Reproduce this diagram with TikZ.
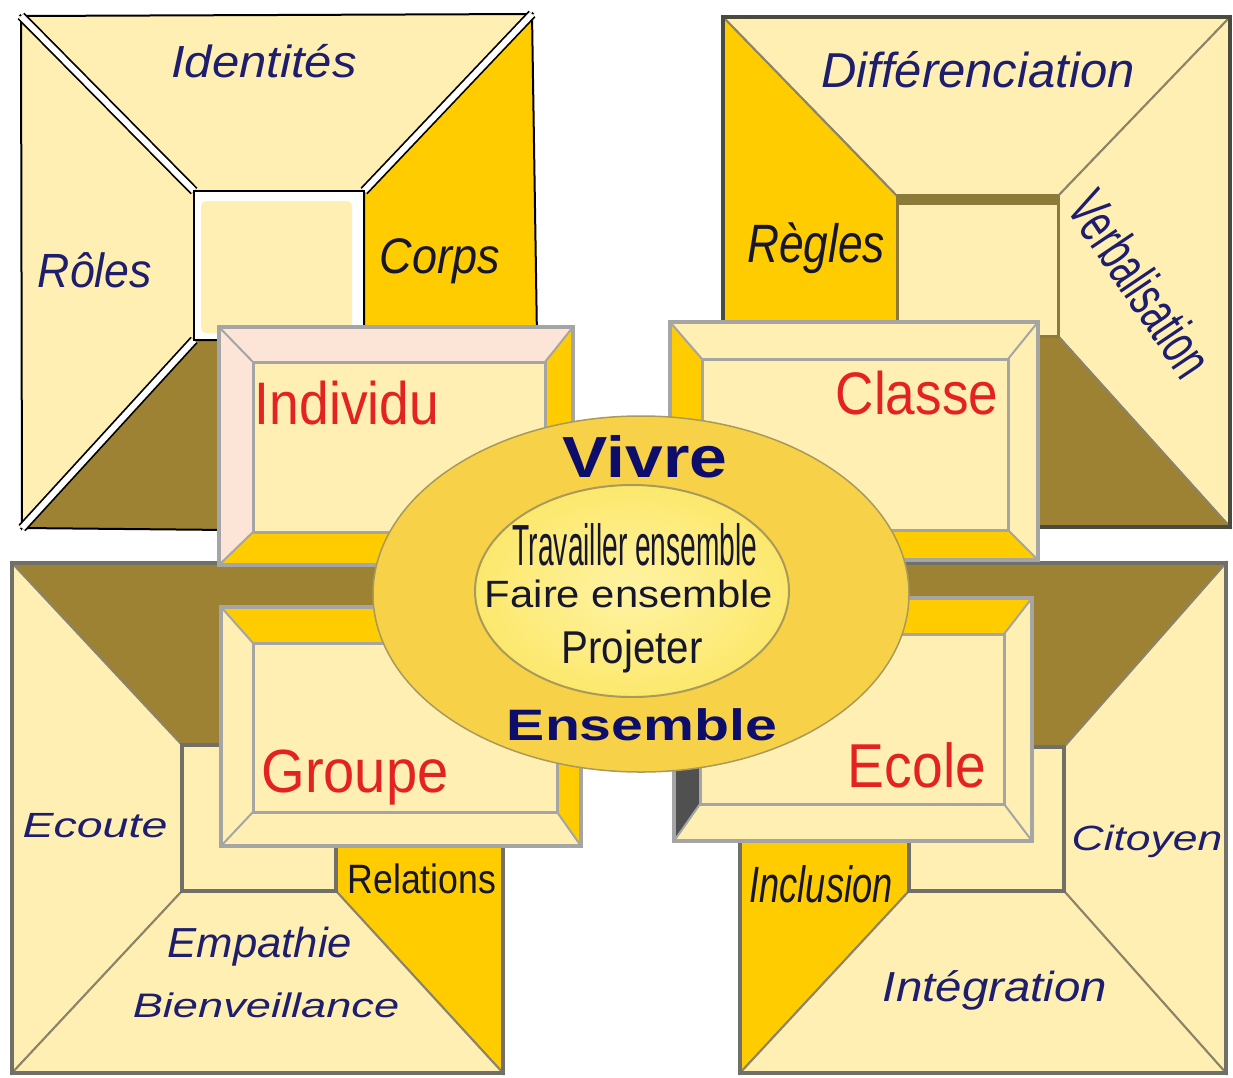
\documentclass[tikz,border=0pt]{standalone}
\usepackage{fontspec}
\setmainfont{Liberation Sans}
\usepackage{graphicx}
\usetikzlibrary{shapes.geometric}
\definecolor{cLight}{HTML}{FFEFB3}
\definecolor{cGold}{HTML}{FFCC00}
\definecolor{cBrown}{HTML}{9C8232}
\definecolor{cPink}{HTML}{FCE4D6}
\definecolor{cDark}{HTML}{505050}
\definecolor{cNavy}{HTML}{1E1E6E}
\definecolor{cVivre}{HTML}{0D0D6B}
\definecolor{cInk}{HTML}{16162C}
\definecolor{cRed}{HTML}{E32222}
\definecolor{cBoxLine}{HTML}{A5A5A5}
\definecolor{cFrame}{HTML}{707068}
\definecolor{cSeam}{HTML}{8C8468}
\definecolor{cOlive}{HTML}{8C7A3A}
\definecolor{cTRframe}{HTML}{4A4A3E}
\definecolor{cEllOut}{HTML}{F7D147}
\definecolor{cEllIn}{HTML}{FCE86C}
\definecolor{cEllInC}{HTML}{FFF3A4}
\definecolor{cEllLine}{HTML}{A89A5A}
\tikzset{
  lbl/.style={inner sep=0pt, anchor=base},
  seam/.style={draw=cSeam, line width=2},
  bevline/.style={draw=cBoxLine, line width=2},
  boxline/.style={draw=cBoxLine, line width=3},
}
\newcommand\Lbl[3]{\fontsize{#1}{#1}\selectfont\scalebox{#2}[1]{#3}}
% #1 outer TL, #2 outer BR, #3 inner TL, #4 inner BR, #5 top, #6 left, #7 right, #8 bottom
\newcommand\bevel[8]{%
  \fill[#5] (#1) -- (#1 -| #2) -- (#3 -| #4) -- (#3) -- cycle;
  \fill[#6] (#1) -- (#3) -- (#3 |- #4) -- (#1 |- #2) -- cycle;
  \fill[#7] (#1 -| #2) -- (#2) -- (#4) -- (#3 -| #4) -- cycle;
  \fill[#8] (#1 |- #2) -- (#2) -- (#4) -- (#3 |- #4) -- cycle;
  \draw[bevline] (#1) -- (#3) (#1 -| #2) -- (#3 -| #4) (#2) -- (#4) (#1 |- #2) -- (#3 |- #4);
  \filldraw[boxline, fill=cLight] (#3) rectangle (#4);
  \draw[draw=cBoxLine, line width=4] (#1) rectangle (#2);
}
\begin{document}
\begin{tikzpicture}[x=1pt,y=-1pt]
\fill[white] (0,0) rectangle (1233,1077);
\useasboundingbox (0,0) rectangle (1233,1077);

% ---------------- top-left frame
\coordinate (tlA) at (21,16);
\coordinate (tlB) at (532,14);
\coordinate (tlC) at (540,533);
\coordinate (tlD) at (22,528);
\coordinate (tla) at (194,191);
\coordinate (tlb) at (364,191);
\coordinate (tlc) at (364,340);
\coordinate (tld) at (194,340);
\filldraw[fill=cLight, draw=black, line width=2] (tlA) -- (tlB) -- (tlb) -- (tla) -- cycle;
\filldraw[fill=cLight, draw=black, line width=2] (tlA) -- (tla) -- (tld) -- (tlD) -- cycle;
\filldraw[fill=cGold, draw=black, line width=2] (tlB) -- (tlC) -- (tlc) -- (tlb) -- cycle;
\filldraw[fill=cBrown, draw=black, line width=2] (tlD) -- (tld) -- (tlc) -- (tlC) -- cycle;
\foreach \p/\q in {tlA/tla, tlB/tlb, tlD/tld, tlC/tlc}{
  \draw[black, line width=9.5] (\p) -- (\q);
  \draw[white, line width=6] (\p) -- (\q);
}
\filldraw[fill=white, draw=black, line width=2] (tla) rectangle (tlc);
\fill[cLight, rounded corners=5] (201,201) rectangle (352,333);

% ---------------- top-right frame
\coordinate (trA) at (723,17);
\coordinate (trB) at (1230,17);
\coordinate (trC) at (1230,527);
\coordinate (trD) at (723,527);
\coordinate (tra) at (897,196);
\coordinate (trb) at (1058,196);
\coordinate (trc) at (1058,336);
\coordinate (trd) at (897,336);
\filldraw[fill=cLight, seam] (trA) -- (trB) -- (trb) -- (tra) -- cycle;
\filldraw[fill=cGold, seam] (trA) -- (tra) -- (trd) -- (trD) -- cycle;
\filldraw[fill=cLight, seam] (trB) -- (trC) -- (trc) -- (trb) -- cycle;
\filldraw[fill=cBrown, seam] (trD) -- (trd) -- (trc) -- (trC) -- cycle;
\filldraw[fill=cLight, draw=cOlive, line width=3] (tra) rectangle (trc);
\fill[cOlive] (897,194) rectangle (1058,205);
\draw[cTRframe, line width=3.5] (trA) rectangle (trC);

% ---------------- bottom-left frame
\coordinate (blA) at (12,563);
\coordinate (blB) at (503,563);
\coordinate (blC) at (503,1073);
\coordinate (blD) at (12,1073);
\coordinate (bla) at (182,745);
\coordinate (blb) at (336,745);
\coordinate (blc) at (336,891);
\coordinate (bld) at (182,891);
\filldraw[fill=cBrown, seam] (blA) -- (blB) -- (blb) -- (bla) -- cycle;
\filldraw[fill=cLight, seam] (blA) -- (bla) -- (bld) -- (blD) -- cycle;
\filldraw[fill=cGold, seam] (blB) -- (blC) -- (blc) -- (blb) -- cycle;
\filldraw[fill=cLight, seam] (blD) -- (bld) -- (blc) -- (blC) -- cycle;
\filldraw[fill=cLight, draw=cFrame, line width=3.5] (bla) rectangle (blc);
\draw[cFrame, line width=3.5] (blA) rectangle (blC);

% ---------------- bottom-right frame
\coordinate (brA) at (740,563);
\coordinate (brB) at (1226,563);
\coordinate (brC) at (1226,1073);
\coordinate (brD) at (740,1073);
\coordinate (bra) at (909,747);
\coordinate (brb) at (1064,747);
\coordinate (brc) at (1064,891);
\coordinate (brd) at (909,891);
\filldraw[fill=cBrown, seam] (brA) -- (brB) -- (brb) -- (bra) -- cycle;
\filldraw[fill=cGold, seam] (brA) -- (bra) -- (brd) -- (brD) -- cycle;
\filldraw[fill=cLight, seam] (brB) -- (brC) -- (brc) -- (brb) -- cycle;
\filldraw[fill=cLight, seam] (brD) -- (brd) -- (brc) -- (brC) -- cycle;
\filldraw[fill=cLight, draw=cFrame, line width=3.5] (bra) rectangle (brc);
\draw[cFrame, line width=3.5] (brA) rectangle (brC);

% ---------------- bevelled boxes
\coordinate (iO1) at (219,327); \coordinate (iO2) at (573,565);
\coordinate (iI1) at (253,362); \coordinate (iI2) at (545,532);
\bevel{iO1}{iO2}{iI1}{iI2}{cPink}{cPink}{cGold}{cGold}

\coordinate (cO1) at (670,322); \coordinate (cO2) at (1038,560);
\coordinate (cI1) at (702,359); \coordinate (cI2) at (1008,530);
\bevel{cO1}{cO2}{cI1}{cI2}{cLight}{cGold}{cLight}{cGold}

\coordinate (gO1) at (221,607); \coordinate (gO2) at (581,846);
\coordinate (gI1) at (253,643); \coordinate (gI2) at (557,812);
\bevel{gO1}{gO2}{gI1}{gI2}{cGold}{cLight}{cGold}{cLight}

\coordinate (eO1) at (674,598); \coordinate (eO2) at (1032,841);
\coordinate (eI1) at (700,634); \coordinate (eI2) at (1004,804);
\bevel{eO1}{eO2}{eI1}{eI2}{cGold}{cDark}{cLight}{cLight}

% ---------------- central ellipses
\coordinate (ellc) at (641,594);
\filldraw[fill=cEllOut, draw=cEllLine, line width=1.5] (ellc) ellipse [x radius=268pt, y radius=178pt];
\coordinate (ellic) at (632,591);
\draw[draw=cEllLine, line width=2, inner color=cEllInC, outer color=cEllIn] (ellic) ellipse [x radius=157pt, y radius=106pt];

% ---------------- labels
\node[lbl, text=cNavy] (identites) at (264,77) {\Lbl{45}{1.09}{\itshape Identités}};
\node[lbl, text=cNavy] (roles) at (95,287) {\Lbl{48}{0.93}{\itshape Rôles}};
\node[lbl, text=cInk] (corps) at (440,273) {\Lbl{50}{0.9}{\itshape Corps}};
\node[lbl, text=cRed] (individu) at (347,424) {\Lbl{60}{0.89}{Individu}};

\node[lbl, text=cNavy] (differ) at (978,87) {\Lbl{49}{1.0}{\itshape Différenciation}};
\node[lbl, text=cInk] (regles) at (816,262) {\Lbl{54}{0.82}{\itshape Règles}};
\node[inner sep=0pt, rotate=-56, text=cNavy] (verbal) at (1141,284) {\Lbl{58}{0.63}{Verbalisation}};
\node[lbl, text=cRed] (classe) at (917,414) {\Lbl{60}{0.885}{Classe}};

\node[lbl, text=cRed] (groupe) at (355,792) {\Lbl{61}{0.92}{Groupe}};
\node[lbl, text=cNavy] (ecoute) at (95,837) {\Lbl{35}{1.33}{\itshape Ecoute}};
\node[lbl, text=cInk] (relations) at (422,893) {\Lbl{41}{0.87}{Relations}};
\node[lbl, text=cNavy] (empathie) at (260,957) {\Lbl{42}{1.04}{\itshape Empathie}};
\node[lbl, text=cNavy] (bienv) at (266,1017) {\Lbl{34}{1.33}{\itshape Bienveillance}};

\node[lbl, text=cRed] (ecole) at (917,787) {\Lbl{62}{0.89}{Ecole}};
\node[lbl, text=cInk] (inclusion) at (821,902) {\Lbl{51}{0.71}{\itshape Inclusion}};
\node[lbl, text=cNavy] (citoyen) at (1147,850) {\Lbl{35}{1.27}{\itshape Citoyen}};
\node[lbl, text=cNavy] (integr) at (995,1001) {\Lbl{42}{1.13}{\itshape Intégration}};

\node[lbl, text=cVivre] (vivre) at (645,477) {\Lbl{58}{1.17}{\bfseries Vivre}};
\node[lbl, text=cVivre] (ensemble) at (642,740) {\Lbl{44}{1.3}{\bfseries Ensemble}};
\node[lbl, text=cInk] (travailler) at (635,565) {\Lbl{58}{0.485}{Travailler ensemble}};
\node[lbl, text=cInk] (faire) at (629,607) {\Lbl{38}{1.1}{Faire ensemble}};
\node[lbl, text=cInk] (projeter) at (632,663) {\Lbl{46}{0.875}{Projeter}};
\end{tikzpicture}
\end{document}
